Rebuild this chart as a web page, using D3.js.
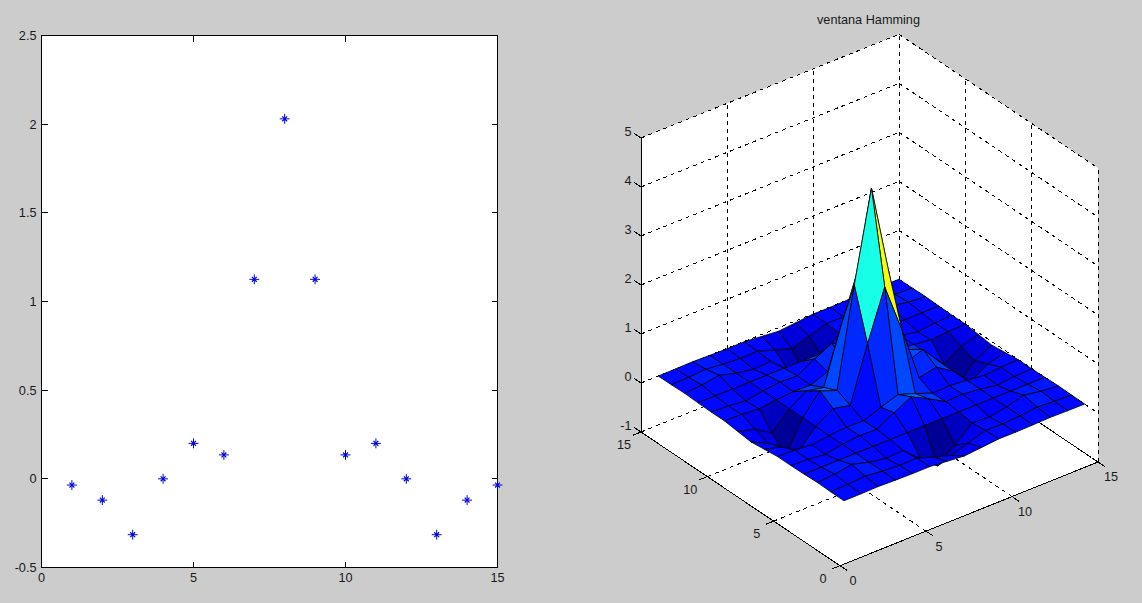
<!DOCTYPE html>
<html>
<head>
<meta charset="utf-8">
<script src="https://cdn.jsdelivr.net/npm/d3@7"></script>
<style>
html,body{margin:0;padding:0;background:#cccccc;overflow:hidden}
text{font-family:"Liberation Sans",Arial,sans-serif;fill:#1a1a1a}
</style>
</head>
<body>
<svg id="chart" width="1142" height="603"></svg>
<script>
// ---------- data ----------
const sampleN = [1,2,3,4,5,6,7,8,9,10,11,12,13,14,15];
const sampleValues = [-0.035,-0.12,-0.315,0,0.2,0.135,1.125,2.03,1.125,0.135,0.2,0,-0.315,-0.12,-0.035];
const leftXTicks = [0,5,10,15];
const leftYTicks = [-0.5,0,0.5,1,1.5,2,2.5];
const titleRight = "ventana Hamming";
const xTicks3d = [0,5,10,15];
const yTicks3d = [0,5,10,15];
const zTicks3d = [-1,0,1,2,3,4,5];
const surfaceZ = [
 [ .001, .004, .011,0,-.007,-.005,-.039,-.071,-.039,-.005,-.007,0, .011, .004, .001],
 [ .004, .014, .038,0,-.024,-.016,-.135,-.244,-.135,-.016,-.024,0, .038, .014, .004],
 [ .011, .038, .099,0,-.063,-.043,-.354,-.639,-.354,-.043,-.063,0, .099, .038, .011],
 [0,0,0,0,0,0,0,0,0,0,0,0,0,0,0],
 [-.007,-.024,-.063,0, .040, .027, .225, .406, .225, .027, .040,0,-.063,-.024,-.007],
 [-.005,-.016,-.043,0, .027, .018, .152, .274, .152, .018, .027,0,-.043,-.016,-.005],
 [-.039,-.135,-.354,0, .225, .152,1.266,2.284,1.266, .152, .225,0,-.354,-.135,-.039],
 [-.071,-.244,-.639,0, .406, .274,2.284,4.121,2.284, .274, .406,0,-.639,-.244,-.071],
 [-.039,-.135,-.354,0, .225, .152,1.266,2.284,1.266, .152, .225,0,-.354,-.135,-.039],
 [-.005,-.016,-.043,0, .027, .018, .152, .274, .152, .018, .027,0,-.043,-.016,-.005],
 [-.007,-.024,-.063,0, .040, .027, .225, .406, .225, .027, .040,0,-.063,-.024,-.007],
 [0,0,0,0,0,0,0,0,0,0,0,0,0,0,0],
 [ .011, .038, .099,0,-.063,-.043,-.354,-.639,-.354,-.043,-.063,0, .099, .038, .011],
 [ .004, .014, .038,0,-.024,-.016,-.135,-.244,-.135,-.016,-.024,0, .038, .014, .004],
 [ .001, .004, .011,0,-.007,-.005,-.039,-.071,-.039,-.005,-.007,0, .011, .004, .001]
];

const svg = d3.select("#chart");
const FS = 12.7, INK = "#000";

// ---------- left: scatter ----------
const L = {l:41.5, r:497.5, t:35.5, b:567.5};
const x2 = d3.scaleLinear().domain([0,15]).range([L.l,L.r]);
const y2 = d3.scaleLinear().domain([-0.5,2.5]).range([L.b,L.t]);
const left = svg.append("g");
left.append("rect").attr("x",L.l).attr("y",L.t).attr("width",L.r-L.l).attr("height",L.b-L.t)
  .attr("fill","#fff").attr("stroke",INK).attr("stroke-width",1);
const tl = 6;
leftXTicks.forEach(v=>{
  left.append("line").attr("x1",x2(v)).attr("x2",x2(v)).attr("y1",L.b).attr("y2",L.b-tl).attr("stroke",INK).attr("shape-rendering","crispEdges");
  left.append("line").attr("x1",x2(v)).attr("x2",x2(v)).attr("y1",L.t).attr("y2",L.t+tl).attr("stroke",INK).attr("shape-rendering","crispEdges");
  left.append("text").attr("x",x2(v)).attr("y",578).attr("dy","0.35em").attr("text-anchor","middle")
    .attr("font-size",FS).text(v);
});
leftYTicks.forEach(v=>{
  left.append("line").attr("x1",L.l).attr("x2",L.l+tl).attr("y1",y2(v)).attr("y2",y2(v)).attr("stroke",INK).attr("shape-rendering","crispEdges");
  left.append("line").attr("x1",L.r).attr("x2",L.r-tl).attr("y1",y2(v)).attr("y2",y2(v)).attr("stroke",INK).attr("shape-rendering","crispEdges");
  left.append("text").attr("x",36.5).attr("y",y2(v)).attr("dy","0.35em").attr("text-anchor","end")
    .attr("font-size",FS).text(v);
});
const plusPath = d3.symbol(d3.symbolPlus,34)();
const timesPath = d3.symbol(d3.symbolTimes,17)();
const marks = left.selectAll("g.m").data(sampleN).join("g").attr("class","m")
  .attr("transform",(d,i)=>`translate(${x2(d)},${y2(sampleValues[i])})`);
marks.append("path").attr("d",plusPath).attr("fill","none").attr("stroke","#0000dd").attr("stroke-width",1);
marks.append("path").attr("d",timesPath).attr("fill","none").attr("stroke","#0000dd").attr("stroke-width",1.2);

// ---------- right: 3D surface, orthographic projection built from linear scales ----------
const O = {x:840, y:565.7};
const sxX = d3.scaleLinear().domain([0,15]).range([0,258]);
const sxY = d3.scaleLinear().domain([0,15]).range([0,-199]);
const syX = d3.scaleLinear().domain([0,15]).range([0,-103.7]);
const syY = d3.scaleLinear().domain([0,15]).range([0,-133.7]);
const syZ = d3.scaleLinear().domain([-1,5]).range([0,-294]);
const P = (x,y,z)=>[O.x+sxX(x)+sxY(y), O.y+syX(x)+syY(y)+syZ(z)];
const lineGen = d3.line();
const closed = pts => lineGen(pts)+"Z";

const right = svg.append("g");
// white box silhouette
right.append("path")
  .attr("d",closed([P(0,15,5),P(15,15,5),P(15,0,5),P(15,0,-1),P(0,0,-1),P(0,15,-1)]))
  .attr("fill","#fff");

const dashed = (a,b)=>right.append("line")
  .attr("x1",a[0]).attr("y1",a[1]).attr("x2",b[0]).attr("y2",b[1])
  .attr("stroke",INK).attr("stroke-width",1).attr("stroke-dasharray","4 4")
  .attr("shape-rendering","crispEdges");
const solid = (a,b)=>right.append("line")
  .attr("x1",a[0]).attr("y1",a[1]).attr("x2",b[0]).attr("y2",b[1])
  .attr("stroke",INK).attr("stroke-width",1).attr("shape-rendering","crispEdges");

// walls and floor grid
zTicks3d.forEach(z=>{ dashed(P(0,15,z),P(15,15,z)); dashed(P(15,15,z),P(15,0,z)); });
xTicks3d.forEach(x=>{ dashed(P(x,15,-1),P(x,15,5)); if(x>0) dashed(P(x,0,-1),P(x,15,-1)); });
yTicks3d.forEach(y=>{ dashed(P(15,y,-1),P(15,y,5)); if(y>0) dashed(P(0,y,-1),P(15,y,-1)); });

// solid axes
solid(P(0,15,-1),P(0,15,5));
solid(P(0,0,-1),P(0,15,-1));
solid(P(0,0,-1),P(15,0,-1));

// ticks + labels
const tickTo = (p,dx,dy)=>solid(p,[p[0]+dx,p[1]+dy]);
zTicks3d.forEach(z=>{
  const p = P(0,15,z);
  tickTo(p,-6.5,-4.5);
  right.append("text").attr("x",p[0]-13-(z<0?2:0)).attr("y",p[1]-6).attr("dy","0.35em")
    .attr("text-anchor","middle").attr("font-size",FS).text(z);
});
yTicks3d.forEach(y=>{
  const p = P(0,y,-1);
  tickTo(p,-8,3.2);
  right.append("text").attr("x",p[0]-17).attr("y",p[1]+12.5).attr("dy","0.35em")
    .attr("text-anchor","middle").attr("font-size",FS).text(y);
});
xTicks3d.forEach(x=>{
  const p = P(x,0,-1);
  tickTo(p,7,4.7);
  right.append("text").attr("x",p[0]+13).attr("y",p[1]+15).attr("dy","0.35em")
    .attr("text-anchor","middle").attr("font-size",FS).text(x);
});

// jet colormap, 64 levels, colour limits = data limits
const flat = surfaceZ.flat();
const cNorm = d3.scaleLinear().domain(d3.extent(flat)).range([0,1]).clamp(true);
const jet = d3.scaleLinear()
  .domain([0,0.125,0.375,0.625,0.875,1])
  .range(["rgb(0,0,143)","rgb(0,0,255)","rgb(0,255,255)","rgb(255,255,0)","rgb(255,0,0)","rgb(128,0,0)"]);
const faceColor = v => jet((Math.min(63,Math.floor(cNorm(v)*64))+0.5)/64);

// faces, back to front
const faces = [];
for(let i=0;i<14;i++) for(let j=0;j<14;j++) faces.push({i,j});
faces.sort((a,b)=>(b.i+b.j)-(a.i+a.j));
const gx = sampleN, gy = sampleN;
right.append("g").selectAll("path").data(faces).join("path")
  .attr("d",f=>closed([
    P(gx[f.i],gy[f.j],surfaceZ[f.i][f.j]),
    P(gx[f.i+1],gy[f.j],surfaceZ[f.i+1][f.j]),
    P(gx[f.i+1],gy[f.j+1],surfaceZ[f.i+1][f.j+1]),
    P(gx[f.i],gy[f.j+1],surfaceZ[f.i][f.j+1])
  ]))
  .attr("fill",f=>faceColor(surfaceZ[f.i][f.j]))
  .attr("stroke","#000").attr("stroke-width",0.8).attr("stroke-linejoin","round");

right.append("text").attr("x",868.5).attr("y",20).attr("dy","0.35em").attr("text-anchor","middle")
  .attr("font-size",FS).text(titleRight);
</script>
</body>
</html>
